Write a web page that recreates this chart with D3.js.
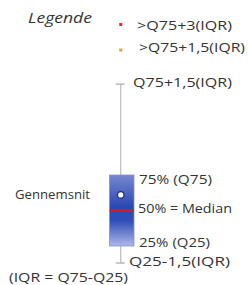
<!DOCTYPE html>
<html><head><meta charset="utf-8">
<script src="https://cdn.jsdelivr.net/npm/d3@7"></script>
<style>
html,body{margin:0;padding:0;background:#fff;}
text{font-family:"Open Sans",Lato,sans-serif;fill:#333;}
</style></head>
<body><svg id="c" width="248" height="285"></svg>
<script>
// Box statistics (illustrative legend values)
const boxStats = ["whiskerLow","q25","median","q75","whiskerHigh"];
const boxValues = [13, 25, 50, 75, 139];
const meanValue = [61];
const outlierKinds = ["extreme","mild"];
const outlierValues = [181, 163];
const outlierColors = ["#e8262a","#f0a030"];
const outlierLabels = [">Q75+3(IQR)", ">Q75+1,5(IQR)"];
const statLabels = ["Q25-1,5(IQR)","25% (Q25)","50% = Median","75% (Q75)","Q75+1,5(IQR)"];

const svg = d3.select("#c");
const y = d3.scaleLinear().domain([0,200]).range([281.5,-2.5]);
const x = d3.scaleBand().domain(["legend"]).range([109.5,134]).padding(0);
const cx = x("legend") + x.bandwidth()/2;
const v = Object.fromEntries(boxStats.map((k,i)=>[k,boxValues[i]]));

const defs = svg.append("defs");
const g = defs.append("linearGradient").attr("id","bx").attr("x1",0).attr("x2",0).attr("y1",0).attr("y2",1);
g.append("stop").attr("offset","0%").attr("stop-color","#7888d0");
g.append("stop").attr("offset","45%").attr("stop-color","#2a48b4");
g.append("stop").attr("offset","65%").attr("stop-color","#3050b8");
g.append("stop").attr("offset","100%").attr("stop-color","#b0b8e8");

const wx = cx - 1;
// whiskers
svg.append("line").attr("x1",wx).attr("x2",wx).attr("y1",y(v.whiskerHigh)).attr("y2",y(v.q75)).attr("stroke","#bbb").attr("stroke-width",1.2);
svg.append("line").attr("x1",wx).attr("x2",wx).attr("y1",y(v.q25)).attr("y2",y(v.whiskerLow)).attr("stroke","#bbb").attr("stroke-width",1.2);
svg.append("line").attr("x1",wx-5).attr("x2",wx+4).attr("y1",y(v.whiskerHigh)).attr("y2",y(v.whiskerHigh)).attr("stroke","#aaa").attr("stroke-width",1.2);
svg.append("line").attr("x1",wx-5).attr("x2",wx+4).attr("y1",y(v.whiskerLow)).attr("y2",y(v.whiskerLow)).attr("stroke","#aaa").attr("stroke-width",1.2);

// box
svg.append("rect").attr("x",x("legend")).attr("width",x.bandwidth())
  .attr("y",y(v.q75)).attr("height",y(v.q25)-y(v.q75))
  .attr("fill","url(#bx)").attr("stroke","#8890c8").attr("stroke-width",0.8);
svg.append("line").attr("x1",x("legend")).attr("x2",x("legend")+x.bandwidth())
  .attr("y1",y(v.median)).attr("y2",y(v.median)).attr("stroke","#e01818").attr("stroke-width",2);
svg.selectAll("circle.mean").data(meanValue).join("circle").attr("class","mean")
  .attr("cx",wx).attr("cy",d=>y(d)).attr("r",3.2).attr("fill","#fff").attr("stroke","#223070").attr("stroke-width",1.2);

// outliers
const outLab = [{x:137, dy:5.5, w:95},{x:139, dy:1.5, w:106}];
svg.selectAll("rect.out").data(outlierValues).join("rect").attr("class","out")
  .attr("x",wx-1.5).attr("y",d=>y(d)-1.5).attr("width",3).attr("height",3)
  .attr("fill",(d,i)=>outlierColors[i]);
svg.selectAll("text.out").data(outlierValues).join("text").attr("class","out")
  .attr("x",(d,i)=>outLab[i].x).attr("y",(d,i)=>y(d)+outLab[i].dy)
  .attr("font-size",13).attr("textLength",(d,i)=>outLab[i].w).attr("lengthAdjust","spacingAndGlyphs")
  .text((d,i)=>outlierLabels[i]);

// stat labels
const labelPos = [
  {x:129, dy:3, w:101}, {x:139, dy:0.5, w:71}, {x:138, dy:2, w:94}, {x:139, dy:8.5, w:73}, {x:133, dy:2.5, w:99}
];
svg.selectAll("text.stat").data(boxValues).join("text").attr("class","stat")
  .attr("x",(d,i)=>labelPos[i].x).attr("y",(d,i)=>y(d)+labelPos[i].dy)
  .attr("font-size",13).attr("textLength",(d,i)=>labelPos[i].w).attr("lengthAdjust","spacingAndGlyphs")
  .text((d,i)=>statLabels[i]);

svg.append("text").attr("x",28).attr("y",23).attr("font-size",14.5).attr("font-style","italic")
  .attr("textLength",64).attr("lengthAdjust","spacingAndGlyphs").text("Legende");
svg.append("text").attr("x",15).attr("y",y(meanValue[0])+4).attr("font-size",13)
  .attr("textLength",75).attr("lengthAdjust","spacingAndGlyphs").text("Gennemsnit");
svg.append("text").attr("x",9).attr("y",281.5).attr("font-size",13)
  .attr("textLength",119).attr("lengthAdjust","spacingAndGlyphs").text("(IQR = Q75-Q25)");
</script></body></html>
